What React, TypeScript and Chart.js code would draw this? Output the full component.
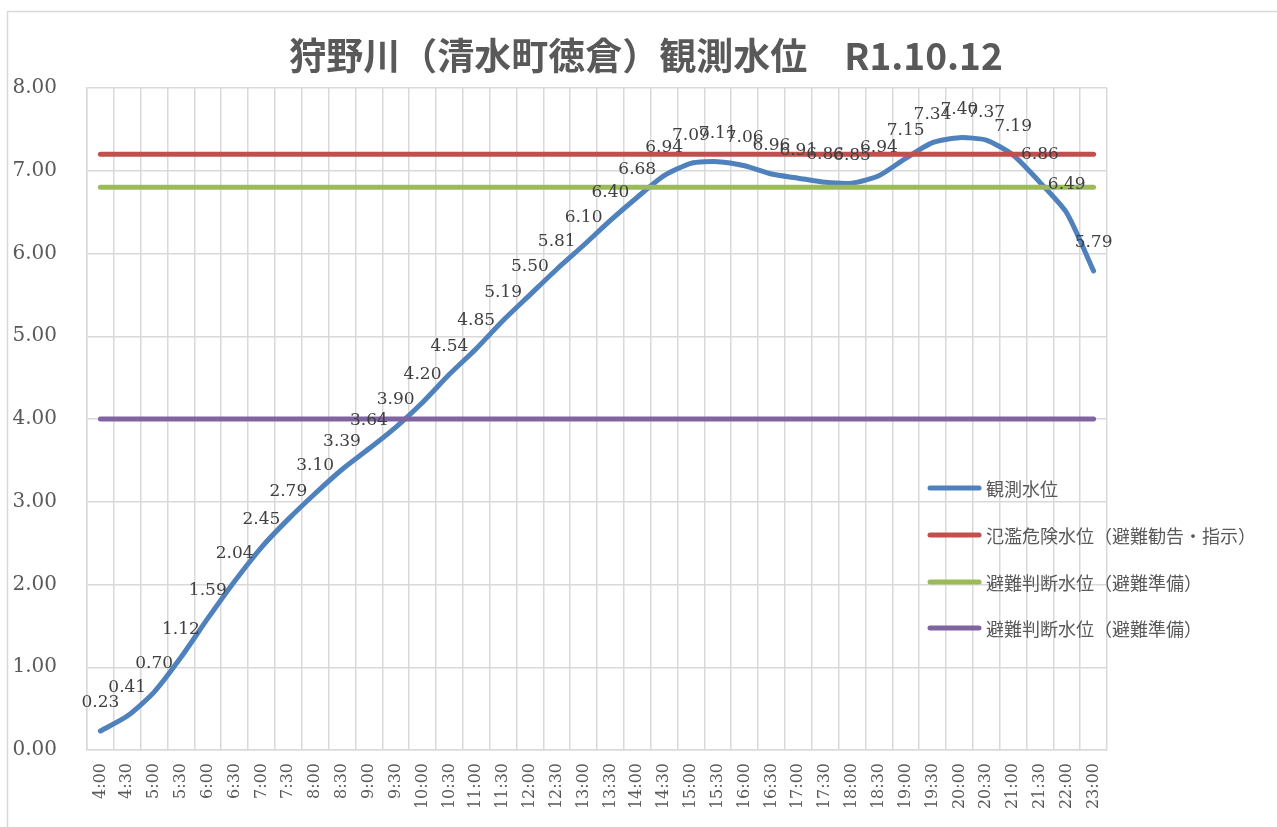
import React, { useEffect, useRef } from "react";
import { Chart, registerables } from "chart.js";

Chart.register(...registerables);

const TITLE = "狩野川（清水町徳倉）観測水位　R1.10.12";

const times = [
  "4:00", "4:30", "5:00", "5:30", "6:00", "6:30", "7:00", "7:30", "8:00", "8:30",
  "9:00", "9:30", "10:00", "10:30", "11:00", "11:30", "12:00", "12:30", "13:00", "13:30",
  "14:00", "14:30", "15:00", "15:30", "16:00", "16:30", "17:00", "17:30", "18:00", "18:30",
  "19:00", "19:30", "20:00", "20:30", "21:00", "21:30", "22:00", "23:00",
];

const observed = [
  0.23, 0.41, 0.70, 1.12, 1.59, 2.04, 2.45, 2.79, 3.10, 3.39,
  3.64, 3.90, 4.20, 4.54, 4.85, 5.19, 5.50, 5.81, 6.10, 6.40,
  6.68, 6.94, 7.09, 7.11, 7.06, 6.96, 6.91, 6.86, 6.85, 6.94,
  7.15, 7.34, 7.40, 7.37, 7.19, 6.86, 6.49, 5.79,
];

const floodLevel = 7.2;
const judgeLevel = 6.8;
const judgeLevel2 = 4.0;

const seriesNames = [
  "観測水位",
  "氾濫危険水位（避難勧告・指示）",
  "避難判断水位（避難準備）",
  "避難判断水位（避難準備）",
];

const colors = ["#4F81BD", "#C0504D", "#9BBB59", "#8064A2"];

const yTicks = [0, 1, 2, 3, 4, 5, 6, 7, 8];

const decorPlugin = {
  id: "decor",
  beforeDraw(chart: any) {
    const ctx = chart.ctx;
    ctx.save();
    ctx.fillStyle = "#ffffff";
    ctx.fillRect(0, 0, chart.width, chart.height);
    ctx.strokeStyle = "#D9D9D9";
    ctx.lineWidth = 1.5;
    ctx.beginPath();
    ctx.moveTo(7.5, chart.height + 5);
    ctx.lineTo(7.5, 11.5);
    ctx.lineTo(chart.width + 5, 11.5);
    ctx.stroke();
    ctx.restore();
  },
  afterDraw(chart: any) {
    const ctx = chart.ctx;
    ctx.save();
    // title
    ctx.fillStyle = "#595959";
    ctx.font = 'bold 37px "Noto Sans CJK JP"';
    ctx.textAlign = "center";
    ctx.textBaseline = "middle";
    ctx.fillText(TITLE, 646, 56);

    // data labels
    const meta = chart.getDatasetMeta(0);
    ctx.font = '17px "DejaVu Serif"';
    ctx.fillStyle = "#404040";
    ctx.textAlign = "center";
    ctx.textBaseline = "middle";
    meta.data.forEach((pt: any, i: number) => {
      ctx.fillText(observed[i].toFixed(2), pt.x, pt.y - 28);
    });

    // legend
    const ys = [488, 535, 582, 628];
    ctx.font = '18px "Noto Sans CJK JP"';
    ctx.textAlign = "left";
    ctx.textBaseline = "middle";
    ctx.lineCap = "round";
    ctx.lineWidth = 5;
    seriesNames.forEach((name, i) => {
      ctx.strokeStyle = colors[i];
      ctx.beginPath();
      ctx.moveTo(930, ys[i]);
      ctx.lineTo(979, ys[i]);
      ctx.stroke();
      ctx.fillStyle = "#595959";
      ctx.fillText(name, 986, ys[i] + 1);
    });
    ctx.restore();
  },
};

export default function App() {
  const canvasRef = useRef<HTMLCanvasElement | null>(null);

  useEffect(() => {
    document.body.style.margin = "0";
    const canvas = canvasRef.current;
    if (!canvas) return;
    const chart = new Chart(canvas, {
      type: "line",
      data: {
        labels: times,
        datasets: [
          {
            label: seriesNames[0],
            data: observed,
            borderColor: colors[0],
            backgroundColor: colors[0],
            borderWidth: 5,
            pointRadius: 0,
            tension: 0.22,
            borderCapStyle: "round",
            borderJoinStyle: "round",
            order: 10,
          },
          {
            label: seriesNames[1],
            data: times.map(() => floodLevel),
            borderColor: colors[1],
            backgroundColor: colors[1],
            borderWidth: 5,
            pointRadius: 0,
            borderCapStyle: "round",
            order: 3,
          },
          {
            label: seriesNames[2],
            data: times.map(() => judgeLevel),
            borderColor: colors[2],
            backgroundColor: colors[2],
            borderWidth: 5,
            pointRadius: 0,
            borderCapStyle: "round",
            order: 2,
          },
          {
            label: seriesNames[3],
            data: times.map(() => judgeLevel2),
            borderColor: colors[3],
            backgroundColor: colors[3],
            borderWidth: 5,
            pointRadius: 0,
            borderCapStyle: "round",
            order: 1,
          },
        ],
      },
      options: {
        responsive: false,
        animation: false,
        devicePixelRatio: 1,
        layout: { padding: { left: 0, top: 88, right: 170, bottom: 0 } },
        plugins: {
          legend: { display: false },
          title: { display: false },
          tooltip: { enabled: false },
        },
        scales: {
          x: {
            type: "category",
            offset: true,
            grid: {
              offset: true,
              color: "#D9D9D9",
              lineWidth: 1.5,
              drawTicks: false,
            },
            border: { color: "#D9D9D9", width: 1.5 },
            ticks: {
              autoSkip: false,
              minRotation: 90,
              maxRotation: 90,
              padding: 13,
              color: "#595959",
              font: { family: "DejaVu Serif", size: 16 },
            },
            afterFit(scale: any) {
              scale.height = 77;
            },
          },
          y: {
            min: 0,
            max: 8,
            afterBuildTicks(scale: any) {
              scale.ticks = yTicks.map((v) => ({ value: v }));
            },
            grid: { color: "#D9D9D9", lineWidth: 1.5, drawTicks: false },
            border: { color: "#D9D9D9", width: 1.5 },
            ticks: {
              padding: 30,
              color: "#595959",
              font: { family: "DejaVu Serif", size: 20 },
              callback: (v: any) => Number(v).toFixed(2),
            },
            afterFit(scale: any) {
              scale.width = 87;
            },
          },
        },
      },
      plugins: [decorPlugin],
    });
    return () => chart.destroy();
  }, []);

  return (
    <div style={{ width: 1277, height: 827, overflow: "hidden" }}>
      <canvas ref={canvasRef} width={1277} height={827} style={{ display: "block" }} />
    </div>
  );
}
